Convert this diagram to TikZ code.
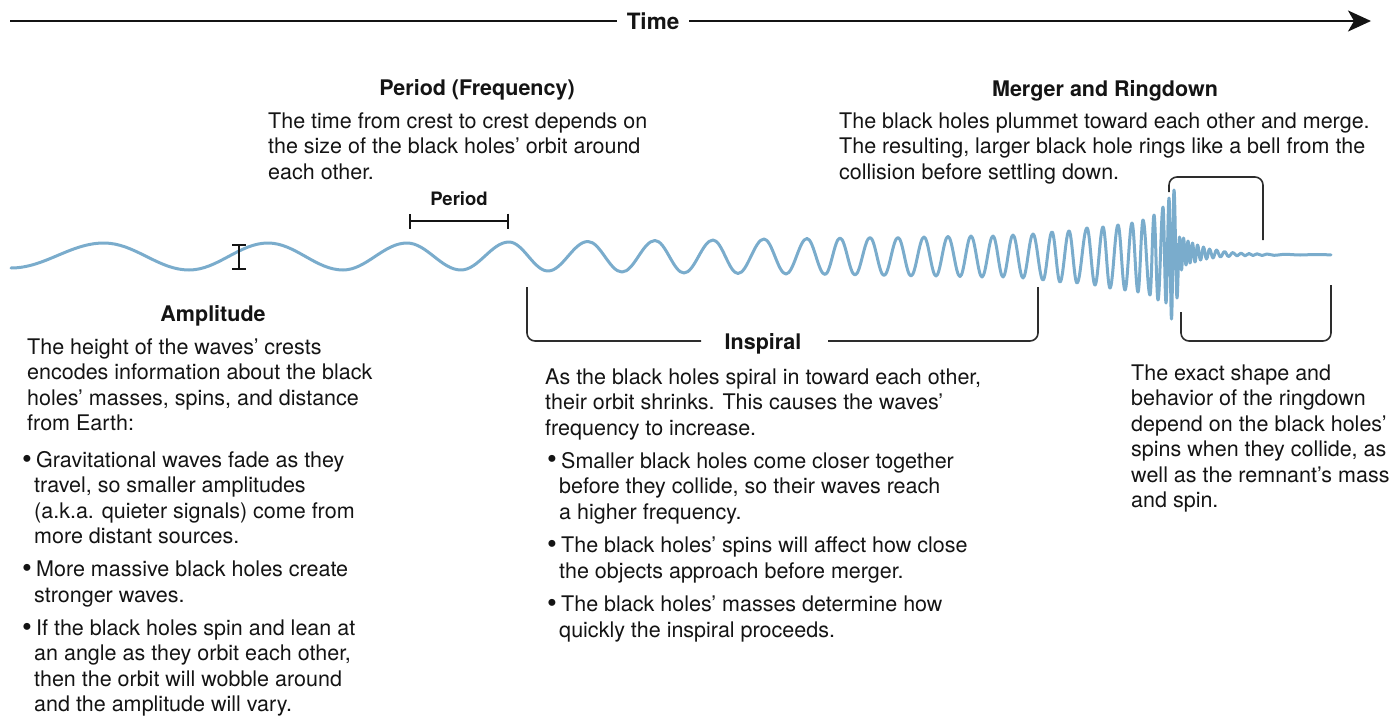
\documentclass[tikz,border=0pt]{standalone}
\usepackage{fontspec}
\setmainfont{TeX Gyre Heros}
\usetikzlibrary{arrows.meta}

\definecolor{wavecol}{RGB}{122,172,204}
\definecolor{ink}{RGB}{20,20,20}
\definecolor{rule}{RGB}{45,45,45}

\newcommand{\bodyfont}{\fontsize{21.5}{25.5}\selectfont}
\newcommand{\firstline}{\rule{0pt}{17.2pt}}
\newcommand{\bigdot}{\raisebox{-0.6pt}{\scalebox{1.3}{\textbullet}}}
\newcommand{\bul}{\makebox[14pt][l]{\bigdot}}
\newcommand{\hang}{\makebox[12pt]{}}

\tikzset{
  wave/.style={draw=wavecol, line width=3pt, line join=round, line cap=round},
  head/.style={font=\bodyfont\bfseries, text=ink, anchor=base, inner sep=0pt},
  para/.style={font=\bodyfont, text=ink, align=left, anchor=north west, inner sep=0pt},
  bracket/.style={draw=rule, line width=1.6pt, rounded corners=8pt},
  marker/.style={draw=ink, line width=2pt},
}

\begin{document}
\begin{tikzpicture}[x=1pt, y=-1pt]
\useasboundingbox (0,0) rectangle (1389,715);

% ---- time axis ----
\node[font=\fontsize{22.5}{27}\selectfont\bfseries, text=ink, inner xsep=10pt, inner ysep=0pt] (time) at (653,21) {Time};
\coordinate (tstart) at (10,21);
\coordinate (tend) at (1371,21);
\draw[draw=ink, line width=2.3pt] (tstart) -- (time.west);
\draw[draw=ink, line width=2.3pt, -{Stealth[length=23pt, width=21pt, inset=6pt]}] (time.east) -- (tend);

% ---- the waveform: extrema joined by half-cosine Bezier arcs ----
\draw[wave] (11,268)
  foreach \x/\y [remember=\x as \px (initially 11), remember=\y as \py (initially 268)] in {
    104/243, 189/270, 268/243, 343/270, 407/243, 461/270, 509/242, 548/271,
    588/241.5, 622/272, 655/240.5, 684/273, 713/240, 738/273.5, 764/239, 786/274,
    807/238.5, 825/274.5, 840/238, 855/275, 870/237.5, 884/275.5, 898/237.5, 911/276,
    924/237, 936/276, 948/236.5, 960/276.5, 971/236, 982/277, 993/236, 1003/277,
    1013/235, 1023/278, 1033/234, 1043/280, 1052/232, 1060/282, 1069/231, 1077/283,
    1087/228, 1095/285, 1103/227, 1110/288, 1118/225, 1125/290, 1132/223, 1138/292,
    1143/220, 1150/295, 1154/215, 1158/300, 1163/207, 1166/303, 1169/198, 1171.5/319,
    1174/190, 1177/298, 1179.5/237, 1181.5/270, 1183.5/238, 1186/265, 1188/241, 1190/263,
    1192.5/243, 1195/262, 1197.5/245, 1200.5/260, 1203.5/247, 1206.5/259, 1209.5/249, 1213/258,
    1216.5/250, 1220.5/257, 1224.5/251.5, 1228.5/256.5, 1233/252.5, 1237/256, 1241/253, 1245/255.8,
    1249/253.5, 1253/255.5, 1257/253.8, 1262/255.5, 1267/254, 1274/255.3, 1285/254.3, 1300/255,
    1315/254.5, 1331/254.8}
  { .. controls ({\px+0.364*(\x-\px)},\py) and ({\x-0.364*(\x-\px)},\y) .. (\x,\y) };

% ---- amplitude marker ----
\coordinate (ampTop) at (239,244);
\coordinate (ampBot) at (239,270);
\draw[marker, {Bar[width=14pt]}-{Bar[width=14pt]}] (ampTop) -- (ampBot);

% ---- period marker ----
\coordinate (perL) at (409,221);
\coordinate (perR) at (509,221);
\draw[marker, {Bar[width=15pt]}-{Bar[width=15pt]}] (perL) -- (perR);
\node[font=\fontsize{18.5}{22}\selectfont\bfseries, text=ink, anchor=base, inner sep=0pt] (perlab) at (459,205) {Period};

% ---- headings ----
\node[head] (hper) at (477,95) {Period (Frequency)};
\node[head] (hmrg) at (1105,96) {Merger and Ringdown};
\node[head] (hamp) at (213,321) {Amplitude};
\node[head] (hins) at (763,349) {Inspiral};

% ---- inspiral bracket ----
\coordinate (insL) at (527,287);
\coordinate (insR) at (1038,287);
\coordinate (insGapL) at (701,341);
\coordinate (insGapR) at (828,341);
\draw[bracket] (insL) |- (insGapL);
\draw[bracket] (insGapR) -| (insR);

% ---- merger bracket (above) ----
\coordinate (mrgL) at (1169,192);
\coordinate (mrgR) at (1263,240);
\draw[bracket] (mrgL) |- (1216,177) -| (mrgR);

% ---- ringdown bracket (below) ----
\coordinate (rngL) at (1181,312);
\coordinate (rngR) at (1331,285);
\draw[bracket] (rngL) |- (1256,341) -| (rngR);

% ---- text blocks ----
\node[para] (tper) at (268,110.8) {\firstline The time from crest to crest depends on\\
the size of the black holes’ orbit around\\
each other.};

\node[para] (tmrg) at (839,110.8) {\firstline The black holes plummet toward each other and merge.\\
The resulting, larger black hole rings like a bell from the\\
collision before settling down.};

\node[para] (tamp) at (27,336.8) {\firstline The height of the waves’ crests\\
encodes information about the black\\
holes’ masses, spins, and distance\\
from Earth:};

\node[para] (lamp) at (22,450) {\firstline\bul Gravitational waves fade as they\\
\hang travel, so smaller amplitudes\\
\hang (a.k.a. quieter signals) come from\\
\hang more distant sources.\\[7.5pt]
\bul More massive black holes create\\
\hang stronger waves.\\[7.5pt]
\bul If the black holes spin and lean at\\
\hang an angle as they orbit each other,\\
\hang then the orbit will wobble around\\
\hang and the amplitude will vary.};

\node[para] (tins) at (545,366.8) {\firstline As the black holes spiral in toward each other,\\
their orbit shrinks. This causes the waves’\\
frequency to increase.};

\node[para] (lins) at (547,450.8) {\firstline\bul Smaller black holes come closer together\\
\hang before they collide, so their waves reach\\
\hang a higher frequency.\\[8pt]
\bul The black holes’ spins will affect how close\\
\hang the objects approach before merger.\\[8pt]
\bul The black holes’ masses determine how\\
\hang quickly the inspiral proceeds.};

\node[para] (trng) at (1131,362.8) {\firstline The exact shape and\\
behavior of the ringdown\\
depend on the black holes’\\
spins when they collide, as\\
well as the remnant’s mass\\
and spin.};

\end{tikzpicture}
\end{document}
